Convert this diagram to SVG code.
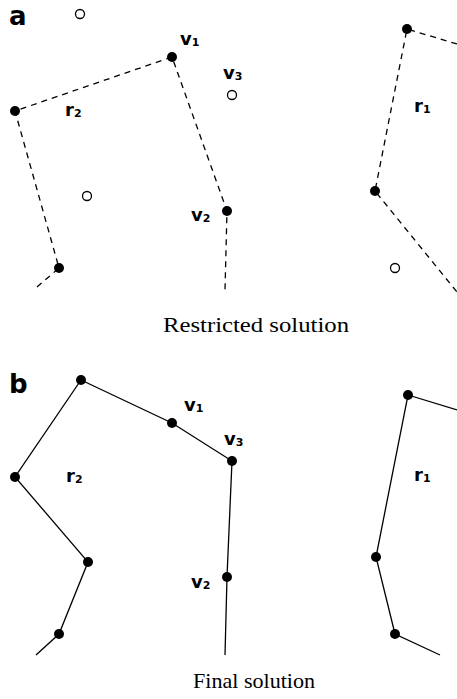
<svg xmlns="http://www.w3.org/2000/svg" width="457" height="699" viewBox="0 0 457 699">
<style>
.e{fill:none;stroke:#000;stroke-width:1.3}
.d{stroke-dasharray:6,5}
.f{fill:#000}
.o{fill:#fff;stroke:#000;stroke-width:1.3}
.l{font-family:"DejaVu Sans",sans-serif;font-size:18px;font-weight:bold;fill:#000}
.s{font-size:11px}
.p{font-family:"DejaVu Sans",sans-serif;font-size:26px;font-weight:bold;fill:#000}
.c{font-family:"Liberation Serif",serif;font-size:21px;fill:#000}
</style>
<rect width="457" height="699" fill="#fff"/>
<g id="connectors">
<polyline class="e d" points="37,287 59,268 15,111 172,57 227,211 225,290"/>
<polyline class="e d" points="457,44 407,29 375,191 457,292"/>
<polyline class="e" points="36,655 59,634 88,562 15,477 81,380 172,423 232,461 227,577 225,655"/>
<polyline class="e" points="457,410 408,395 376,557 395,634 440,655"/>
</g>
<g id="panel-a">
<text class="p" x="9" y="25">a</text>
<g id="a-v1"><circle class="f" cx="172" cy="57" r="5"/><text class="l" x="180" y="45">v<tspan class="s" dy="1">1</tspan></text></g>
<g id="a-v3"><circle class="o" cx="232" cy="95" r="4.5"/><text class="l" x="223" y="79">v<tspan class="s" dy="1">3</tspan></text></g>
<g id="a-r2"><circle class="f" cx="15" cy="111" r="5"/><text class="l" x="65" y="116">r<tspan class="s" dy="1">2</tspan></text></g>
<g id="a-v2"><circle class="f" cx="227" cy="211" r="5"/><text class="l" x="191" y="221">v<tspan class="s" dy="1">2</tspan></text></g>
<g id="a-n1"><circle class="f" cx="59" cy="268" r="5"/></g>
<g id="a-o1"><circle class="o" cx="80" cy="14" r="4.5"/></g>
<g id="a-o2"><circle class="o" cx="87" cy="196" r="4.5"/></g>
<g id="a-r1"><circle class="f" cx="407" cy="29" r="5"/><text class="l" x="414" y="112">r<tspan class="s" dy="1">1</tspan></text></g>
<g id="a-n2"><circle class="f" cx="375" cy="191" r="5"/></g>
<g id="a-o3"><circle class="o" cx="395" cy="268" r="4.5"/></g>
<text class="c" x="163" y="332" textLength="186" lengthAdjust="spacingAndGlyphs">Restricted solution</text>
</g>
<g id="panel-b">
<text class="p" x="9" y="393">b</text>
<g id="b-n1"><circle class="f" cx="81" cy="380" r="5"/></g>
<g id="b-v1"><circle class="f" cx="172" cy="423" r="5"/><text class="l" x="184" y="411">v<tspan class="s" dy="1">1</tspan></text></g>
<g id="b-v3"><circle class="f" cx="232" cy="461" r="5"/><text class="l" x="224" y="445">v<tspan class="s" dy="1">3</tspan></text></g>
<g id="b-r2"><circle class="f" cx="15" cy="477" r="5"/><text class="l" x="66" y="482">r<tspan class="s" dy="1">2</tspan></text></g>
<g id="b-n2"><circle class="f" cx="88" cy="562" r="5"/></g>
<g id="b-v2"><circle class="f" cx="227" cy="577" r="5"/><text class="l" x="191" y="588">v<tspan class="s" dy="1">2</tspan></text></g>
<g id="b-n3"><circle class="f" cx="59" cy="634" r="5"/></g>
<g id="b-r1"><circle class="f" cx="408" cy="395" r="5"/><text class="l" x="414" y="481">r<tspan class="s" dy="1">1</tspan></text></g>
<g id="b-n4"><circle class="f" cx="376" cy="557" r="5"/></g>
<g id="b-n5"><circle class="f" cx="395" cy="634" r="5"/></g>
<text class="c" x="193" y="688" textLength="122" lengthAdjust="spacingAndGlyphs">Final solution</text>
</g>
</svg>
